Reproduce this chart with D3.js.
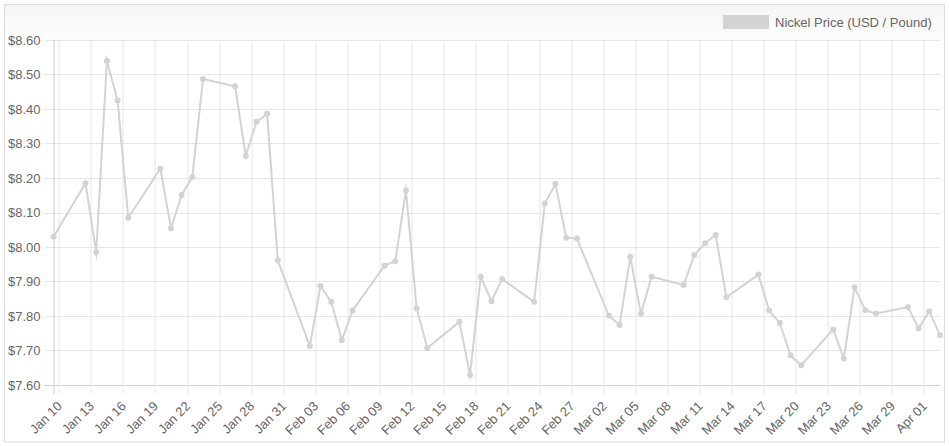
<html>
<head>
  <script src="https://d3js.org/d3.v7.min.js"></script>
  <style>
    body { margin: 0; background: #fff; }
    .axis text { font-family: "Liberation Sans", Arial, Helvetica, sans-serif; font-size: 13px; fill: #666; }
  </style>
</head>
<body>
<div id="chart"></div>
<script>
  // trading days (2015), prices
  var dates = ["01-09","01-12","01-13","01-14","01-15","01-16","01-19","01-20","01-21","01-22","01-23",
    "01-26","01-27","01-28","01-29","01-30","02-02","02-03","02-04","02-05","02-06","02-09","02-10",
    "02-11","02-12","02-13","02-16","02-17","02-18","02-19","02-20","02-23","02-24","02-25","02-26",
    "02-27","03-02","03-03","03-04","03-05","03-06","03-09","03-10","03-11","03-12","03-13","03-16",
    "03-17","03-18","03-19","03-20","03-23","03-24","03-25","03-26","03-27","03-30","03-31","04-01","04-02"];
  var prices = [8.030, 8.185, 7.985, 8.540, 8.425, 8.085, 8.227, 8.054, 8.151, 8.203, 8.487,
    8.466, 8.264, 8.363, 8.386, 7.961, 7.713, 7.887, 7.841, 7.730, 7.816, 7.946, 7.959,
    8.164, 7.822, 7.707, 7.783, 7.629, 7.914, 7.843, 7.907, 7.841, 8.126, 8.183, 8.027,
    8.025, 7.801, 7.774, 7.971, 7.807, 7.914, 7.890, 7.977, 8.011, 8.035, 7.854, 7.920,
    7.816, 7.780, 7.686, 7.657, 7.761, 7.677, 7.883, 7.817, 7.807, 7.826, 7.764, 7.814, 7.744];
  var tickDates = ["01-10","01-13","01-16","01-19","01-22","01-25","01-28","01-31","02-03","02-06",
    "02-09","02-12","02-15","02-18","02-21","02-24","02-27","03-02","03-05","03-08","03-11","03-14",
    "03-17","03-20","03-23","03-26","03-29","04-01"];
  var yTicks = [7.6, 7.7, 7.8, 7.9, 8.0, 8.1, 8.2, 8.3, 8.4, 8.5, 8.6];
  var seriesName = "Nickel Price (USD / Pound)";
  var color = "#d3d3d3";

  var W = 949, H = 446;
  var margin = { top: 40, right: 9, bottom: 61, left: 53.5 };
  var width = W - margin.left - margin.right,
      height = H - margin.top - margin.bottom;

  var parseDay = d3.timeParse("%Y-%m-%d %H:%M");
  var data = dates.map(function (d, i) {
    return { date: parseDay("2015-" + d + " 12:00"), value: prices[i] };
  });
  var ticks = tickDates.map(function (d) { return parseDay("2015-" + d + " 00:00"); });

  var svg = d3.select("#chart").append("svg")
    .attr("width", W)
    .attr("height", H);

  // panel background + border
  var grad = svg.append("defs").append("linearGradient")
    .attr("id", "bg").attr("x1", 0).attr("y1", 0).attr("x2", 0).attr("y2", 1);
  grad.append("stop").attr("offset", "0%").attr("stop-color", "#f5f5f5");
  grad.append("stop").attr("offset", "10%").attr("stop-color", "#ffffff");
  svg.append("rect")
    .attr("x", 4.5).attr("y", 4.5)
    .attr("width", 940).attr("height", 437.5)
    .attr("fill", "url(#bg)")
    .attr("stroke", "#dddddd");

  var g = svg.append("g")
    .attr("transform", "translate(" + margin.left + "," + margin.top + ")");

  var x = d3.scaleTime()
    .domain(d3.extent(data, function (d) { return d.date; }))
    .range([0, width]);

  var y = d3.scaleLinear()
    .domain([7.6, 8.6])
    .range([height, 0]);

  // grid
  g.append("g").selectAll("line")
    .data(yTicks)
    .enter().append("line")
    .attr("x1", -9).attr("x2", width)
    .attr("y1", function (d) { return Math.round(y(d)) + 0.5; })
    .attr("y2", function (d) { return Math.round(y(d)) + 0.5; })
    .attr("stroke", function (d, i) { return i === 0 ? "#cfcfcf" : "#e6e6e6"; });

  g.append("g").selectAll("line")
    .data(ticks)
    .enter().append("line")
    .attr("x1", function (d) { return Math.round(x(d)) + 0.5; })
    .attr("x2", function (d) { return Math.round(x(d)) + 0.5; })
    .attr("y1", 0).attr("y2", height + 9)
    .attr("stroke", "#e6e6e6");

  g.append("line")
    .attr("x1", 0.5).attr("x2", 0.5)
    .attr("y1", 0).attr("y2", height + 9)
    .attr("stroke", "#cfcfcf");

  // y labels
  var yAxis = g.append("g").attr("class", "axis");
  yAxis.selectAll("text")
    .data(yTicks)
    .enter().append("text")
    .attr("x", -13)
    .attr("y", function (d) { return y(d); })
    .attr("dy", "0.35em")
    .attr("text-anchor", "end")
    .text(function (d) { return "$" + d.toFixed(2); });

  // x labels, rotated
  var fmt = d3.timeFormat("%b %d");
  var xAxis = g.append("g").attr("class", "axis");
  xAxis.selectAll("text")
    .data(ticks)
    .enter().append("text")
    .attr("transform", function (d) {
      return "translate(" + (x(d) + 4) + "," + (height + 22) + ") rotate(-45)";
    })
    .attr("text-anchor", "end")
    .text(function (d) { return fmt(d); });

  // line + points
  var line = d3.line()
    .x(function (d) { return x(d.date); })
    .y(function (d) { return y(d.value); });

  g.append("path")
    .datum(data)
    .attr("d", line)
    .attr("fill", "none")
    .attr("stroke", color)
    .attr("stroke-width", 2)
    .attr("stroke-linejoin", "miter")
    .attr("stroke-miterlimit", 10);

  g.append("g").selectAll("circle")
    .data(data)
    .enter().append("circle")
    .attr("cx", function (d) { return x(d.date); })
    .attr("cy", function (d) { return y(d.value); })
    .attr("r", 3)
    .attr("fill", color);

  // legend
  var legend = svg.append("g").attr("class", "axis");
  legend.append("rect")
    .attr("x", 723).attr("y", 15)
    .attr("width", 46).attr("height", 14)
    .attr("fill", color);
  legend.append("text")
    .attr("x", 775).attr("y", 27)
    .text(seriesName);
</script>
</body>
</html>
